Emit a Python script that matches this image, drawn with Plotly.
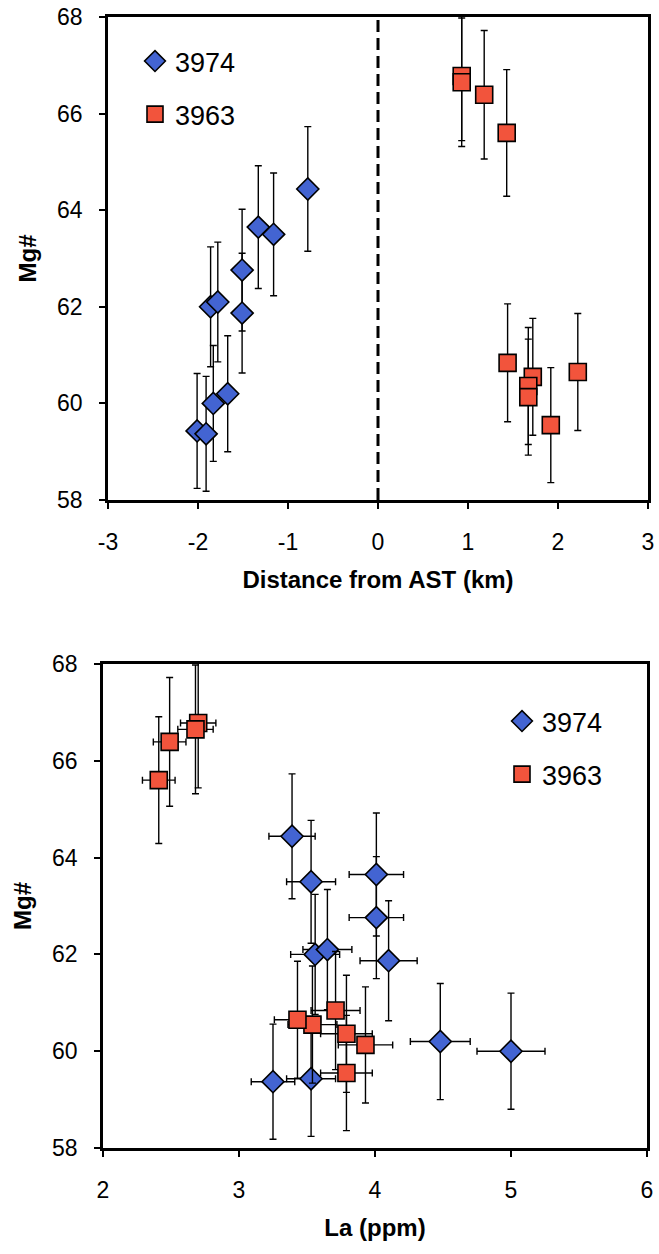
import plotly.graph_objects as go

# ---- data ----
dist_3974 = [-0.78, -1.33, -1.16, -1.51, -1.51, -1.86, -1.78, -1.83, -1.67, -2.01, -1.91]
mg_3974 = [64.44, 63.65, 63.50, 62.76, 61.87, 62.00, 62.10, 60.00, 60.20, 59.43, 59.37]
mg_err_3974 = [1.29, 1.27, 1.27, 1.26, 1.24, 1.24, 1.24, 1.20, 1.20, 1.19, 1.19]
la_3974 = [3.39, 4.01, 3.53, 4.01, 4.10, 3.56, 3.65, 5.00, 4.48, 3.53, 3.25]
la_err_3974 = [0.17, 0.20, 0.18, 0.20, 0.21, 0.18, 0.18, 0.25, 0.22, 0.18, 0.16]

dist_3963 = [0.93, 0.93, 1.18, 1.43, 1.44, 1.72, 1.67, 1.67, 1.92, 2.22]
mg_3963 = [66.78, 66.65, 66.39, 65.60, 60.84, 60.55, 60.36, 60.13, 59.55, 60.65]
mg_err_3963 = [1.34, 1.33, 1.33, 1.31, 1.22, 1.21, 1.21, 1.20, 1.19, 1.21]
la_3963 = [2.70, 2.68, 2.49, 2.41, 3.71, 3.54, 3.79, 3.93, 3.79, 3.43]
la_err_3963 = [0.13, 0.13, 0.12, 0.12, 0.18, 0.18, 0.19, 0.20, 0.19, 0.17]

dist_ticks = [-3, -2, -1, 0, 1, 2, 3]
dist_ticktext = ["-3", "-2", "-1", "0", "1", "2", "3"]
la_ticks = [2, 3, 4, 5, 6]
la_ticktext = ["2", "3", "4", "5", "6"]
mg_ticks = [58, 60, 62, 64, 66, 68]
mg_ticktext = ["58", "60", "62", "64", "66", "68"]

BLUE = "#4364D2"
RED = "#F2543C"
FONT = "Liberation Sans"

fig = go.Figure()

def marker(sym, color, size):
    return dict(symbol=sym, color=color, size=size, line=dict(color="black", width=1.6))

def err(vals):
    return dict(type="data", array=vals, visible=True, color="black", thickness=1.4, width=3.5)

# top panel
fig.add_trace(go.Scatter(x=dist_3974, y=mg_3974, mode="markers", name="3974",
                         marker=marker("diamond", BLUE, 17), error_y=err(mg_err_3974),
                         xaxis="x", yaxis="y", legend="legend", legendgroup="a"))
fig.add_trace(go.Scatter(x=dist_3963, y=mg_3963, mode="markers", name="3963",
                         marker=marker("square", RED, 17), error_y=err(mg_err_3963),
                         xaxis="x", yaxis="y", legend="legend", legendgroup="b"))
# bottom panel
fig.add_trace(go.Scatter(x=la_3974, y=mg_3974, mode="markers", name="3974",
                         marker=marker("diamond", BLUE, 17), error_y=err(mg_err_3974),
                         error_x=err(la_err_3974),
                         xaxis="x2", yaxis="y2", legend="legend2", legendgroup="c"))
fig.add_trace(go.Scatter(x=la_3963, y=mg_3963, mode="markers", name="3963",
                         marker=marker("square", RED, 17), error_y=err(mg_err_3963),
                         error_x=err(la_err_3963),
                         xaxis="x2", yaxis="y2", legend="legend2", legendgroup="d"))

fig.add_shape(type="line", xref="x", yref="y domain", x0=0, x1=0, y0=0, y1=1,
              line=dict(color="black", width=3, dash="12px,6px"))

W, H = 659, 1254
def px_x(p): return p / W
def px_y(p): return 1 - p / H

axis_common = dict(showline=True, linecolor="black", linewidth=2.5, mirror=True,
                   ticks="outside", ticklen=6, tickwidth=2, tickcolor="black",
                   showgrid=False, zeroline=False, automargin=False,
                   tickfont=dict(family=FONT, size=23, color="black"))
title_font = dict(family=FONT, size=24, color="black")

fig.update_layout(
    width=W, height=H, margin=dict(l=0, r=0, t=0, b=0),
    paper_bgcolor="white", plot_bgcolor="white", showlegend=True,
    xaxis=dict(domain=[px_x(108), px_x(648)], range=[-3, 3],
               tickvals=dist_ticks, ticktext=dist_ticktext,
               anchor="y", ticklabelstandoff=14,
               title=dict(text="<b>Distance from AST (km)</b>", standoff=17, font=title_font),
               **axis_common),
    yaxis=dict(domain=[px_y(500), px_y(17)], range=[58, 68],
               tickvals=mg_ticks, ticktext=mg_ticktext,
               anchor="x", ticklabelstandoff=12,
               title=dict(text="<b>Mg#</b>", standoff=14, font=title_font),
               **axis_common),
    xaxis2=dict(domain=[px_x(103), px_x(647)], range=[2, 6],
                tickvals=la_ticks, ticktext=la_ticktext,
                anchor="y2", ticklabelstandoff=14,
                title=dict(text="<b>La (ppm)</b>", standoff=17, font=title_font),
                **axis_common),
    yaxis2=dict(domain=[px_y(1148), px_y(664)], range=[58, 68],
                tickvals=mg_ticks, ticktext=mg_ticktext,
                anchor="x2", ticklabelstandoff=12,
                title=dict(text="<b>Mg#</b>", standoff=14, font=title_font),
                **axis_common),
    legend=dict(x=px_x(135), y=px_y(37), xanchor="left", yanchor="top",
                bgcolor="rgba(0,0,0,0)", tracegroupgap=15, itemsizing="trace",
                font=dict(family=FONT, size=27, color="black")),
    legend2=dict(x=px_x(502), y=px_y(697), xanchor="left", yanchor="top",
                 bgcolor="rgba(0,0,0,0)", tracegroupgap=15, itemsizing="trace",
                 font=dict(family=FONT, size=27, color="black")),
)

fig.write_html(
    "out.html",
    config={"displayModeBar": False},
    post_script="document.body.style.margin='0';document.body.style.overflow='hidden';",
)
